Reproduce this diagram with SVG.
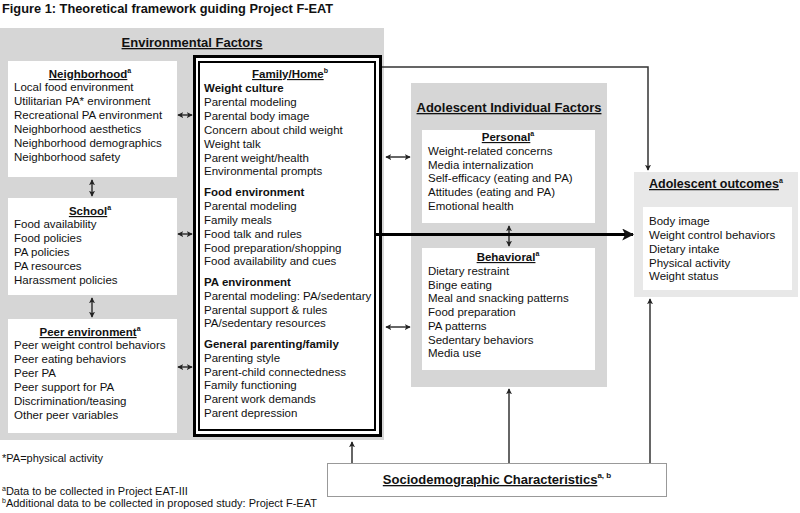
<svg xmlns="http://www.w3.org/2000/svg" width="800" height="513" viewBox="0 0 800 513">
<defs>
<style>
text{font-family:"Liberation Sans",Arial,sans-serif;fill:#111}
.t{font-size:11.5px}
.b{font-size:11.5px;font-weight:bold}
.h{font-size:11.5px;font-weight:bold;text-anchor:middle}
.H{font-size:13px;font-weight:bold;text-anchor:middle}
.u{text-decoration:underline}
.s{font-size:7px;font-weight:bold}
.fn{font-size:11px}
.panel{fill:#d6d6d6}
.box{fill:#fff}
.c{fill:none;stroke:#333;stroke-width:1.5}
</style>
<marker id="ah" viewBox="0 0 8 8" refX="7" refY="4" markerWidth="6" markerHeight="6" markerUnits="userSpaceOnUse" orient="auto-start-reverse"><path d="M0,0 L8,4 L0,8 L2,4 z" fill="#222"/></marker>
<marker id="ahb" viewBox="0 0 10 10" refX="9" refY="5" markerWidth="12" markerHeight="12" markerUnits="userSpaceOnUse" orient="auto"><path d="M0,0 L10,5 L0,10 L2.5,5 z" fill="#111"/></marker>
</defs>
<rect width="800" height="513" fill="#fff"/>
<text x="2" y="13" style="font-size:12.8px;font-weight:bold">Figure 1: Theoretical framework guiding Project F-EAT</text>

<g id="environmental-factors">
<rect class="panel" x="0" y="28" width="384" height="412"/>
<text class="H" x="192" y="47"><tspan class="u">Environmental Factors</tspan></text>
</g>

<g id="neighborhood">
<rect class="box" x="8" y="61" width="169" height="116"/>
<text class="h" x="90" y="78"><tspan class="u">Neighborhood</tspan><tspan class="s" dy="-5">a</tspan></text>
<text class="t" x="14" y="91">Local food environment</text>
<text class="t" x="14" y="105">Utilitarian PA* environment</text>
<text class="t" x="14" y="119">Recreational PA environment</text>
<text class="t" x="14" y="133">Neighborhood aesthetics</text>
<text class="t" x="14" y="147">Neighborhood demographics</text>
<text class="t" x="14" y="161">Neighborhood safety</text>
</g>

<g id="school">
<rect class="box" x="8" y="198" width="169" height="97"/>
<text class="h" x="90" y="215"><tspan class="u">School</tspan><tspan class="s" dy="-5">a</tspan></text>
<text class="t" x="14" y="228">Food availability</text>
<text class="t" x="14" y="242">Food policies</text>
<text class="t" x="14" y="256">PA policies</text>
<text class="t" x="14" y="270">PA resources</text>
<text class="t" x="14" y="284">Harassment policies</text>
</g>

<g id="peer-environment">
<rect class="box" x="8" y="319" width="169" height="114"/>
<text class="h" x="90" y="336"><tspan class="u">Peer environment</tspan><tspan class="s" dy="-5">a</tspan></text>
<text class="t" x="14" y="349">Peer weight control behaviors</text>
<text class="t" x="14" y="363">Peer eating behaviors</text>
<text class="t" x="14" y="377">Peer PA</text>
<text class="t" x="14" y="391">Peer support for PA</text>
<text class="t" x="14" y="405">Discrimination/teasing</text>
<text class="t" x="14" y="419">Other peer variables</text>
</g>

<g id="family-home">
<rect x="194.5" y="56.5" width="186" height="379" fill="#fff" stroke="#000" stroke-width="3"/>
<rect x="199" y="62" width="176" height="368" fill="#fff" stroke="#000" stroke-width="2"/>
<text class="h" x="290" y="78"><tspan class="u">Family/Home</tspan><tspan class="s" dy="-5">b</tspan></text>
<text class="b" x="204" y="92">Weight culture</text>
<text class="t" x="204" y="106">Parental modeling</text>
<text class="t" x="204" y="120">Parental body image</text>
<text class="t" x="204" y="134">Concern about child weight</text>
<text class="t" x="204" y="148">Weight talk</text>
<text class="t" x="204" y="162">Parent weight/health</text>
<text class="t" x="204" y="175">Environmental prompts</text>
<text class="b" x="204" y="196">Food environment</text>
<text class="t" x="204" y="210">Parental modeling</text>
<text class="t" x="204" y="224">Family meals</text>
<text class="t" x="204" y="238">Food talk and rules</text>
<text class="t" x="204" y="252">Food preparation/shopping</text>
<text class="t" x="204" y="265">Food availability and cues</text>
<text class="b" x="204" y="286">PA environment</text>
<text class="t" x="204" y="300">Parental modeling: PA/sedentary</text>
<text class="t" x="204" y="314">Parental support &amp; rules</text>
<text class="t" x="204" y="327">PA/sedentary resources</text>
<text class="b" x="204" y="348">General parenting/family</text>
<text class="t" x="204" y="362">Parenting style</text>
<text class="t" x="204" y="376">Parent-child connectedness</text>
<text class="t" x="204" y="389">Family functioning</text>
<text class="t" x="204" y="403">Parent work demands</text>
<text class="t" x="204" y="417">Parent depression</text>
</g>

<g id="adolescent-individual-factors">
<rect class="panel" x="411" y="83" width="196" height="304"/>
<text class="H" x="509" y="112"><tspan class="u">Adolescent Individual Factors</tspan></text>
</g>

<g id="personal">
<rect class="box" x="422" y="130" width="173" height="93"/>
<text class="h" x="508" y="141"><tspan class="u">Personal</tspan><tspan class="s" dy="-5">a</tspan></text>
<text class="t" x="428" y="155">Weight-related concerns</text>
<text class="t" x="428" y="169">Media internalization</text>
<text class="t" x="428" y="182">Self-efficacy (eating and PA)</text>
<text class="t" x="428" y="196">Attitudes (eating and PA)</text>
<text class="t" x="428" y="210">Emotional health</text>
</g>

<g id="behavioral">
<rect class="box" x="422" y="248" width="173" height="122"/>
<text class="h" x="508" y="261"><tspan class="u">Behavioral</tspan><tspan class="s" dy="-5">a</tspan></text>
<text class="t" x="428" y="275">Dietary restraint</text>
<text class="t" x="428" y="289">Binge eating</text>
<text class="t" x="428" y="302">Meal and snacking patterns</text>
<text class="t" x="428" y="316">Food preparation</text>
<text class="t" x="428" y="330">PA patterns</text>
<text class="t" x="428" y="344">Sedentary behaviors</text>
<text class="t" x="428" y="357">Media use</text>
</g>

<g id="adolescent-outcomes">
<rect x="634" y="172" width="164" height="125" fill="#e8e8e8"/>
<rect class="box" x="643" y="207" width="149" height="83"/>
<text x="649" y="188" style="font-size:12.5px;font-weight:bold"><tspan class="u">Adolescent outcomes</tspan><tspan class="s" dy="-5">a</tspan></text>
<text class="t" x="649" y="225">Body image</text>
<text class="t" x="649" y="239">Weight control behaviors</text>
<text class="t" x="649" y="253">Dietary intake</text>
<text class="t" x="649" y="267">Physical activity</text>
<text class="t" x="649" y="280">Weight status</text>
</g>

<g id="sociodemographic">
<rect x="327.5" y="463.5" width="339" height="33" fill="#fff" stroke="#999" stroke-width="1"/>
<text x="497" y="484" style="font-size:13px;font-weight:bold;text-anchor:middle"><tspan class="u">Sociodemographic Characteristics</tspan><tspan style="font-size:8px" dy="-6">a, b</tspan></text>
</g>

<g id="connectors">
<line class="c" x1="92" y1="180" x2="92" y2="196" marker-start="url(#ah)" marker-end="url(#ah)"/>
<line class="c" x1="92" y1="298" x2="92" y2="317" marker-start="url(#ah)" marker-end="url(#ah)"/>
<line class="c" x1="178" y1="115" x2="192" y2="115" marker-start="url(#ah)" marker-end="url(#ah)"/>
<line class="c" x1="178" y1="234" x2="192" y2="234" marker-start="url(#ah)" marker-end="url(#ah)"/>
<line class="c" x1="178" y1="367" x2="192" y2="367" marker-start="url(#ah)" marker-end="url(#ah)"/>
<line class="c" x1="386" y1="157" x2="410" y2="157" marker-start="url(#ah)" marker-end="url(#ah)"/>
<line class="c" x1="386" y1="327" x2="410" y2="327" marker-start="url(#ah)" marker-end="url(#ah)"/>
<line class="c" x1="509" y1="226" x2="509" y2="246" marker-start="url(#ah)" marker-end="url(#ah)"/>
<path class="c" d="M382,67 H648 V170" marker-end="url(#ah)"/>
<line x1="376" y1="234.5" x2="633" y2="234.5" stroke="#000" stroke-width="3" marker-end="url(#ahb)"/>
<line class="c" x1="352" y1="463" x2="352" y2="442" marker-end="url(#ah)"/>
<line class="c" x1="509" y1="463" x2="509" y2="389" marker-end="url(#ah)"/>
<line class="c" x1="650" y1="463" x2="650" y2="299" marker-end="url(#ah)"/>
</g>

<g id="footnotes">
<text class="fn" x="2" y="462">*PA=physical activity</text>
<text class="fn" x="2" y="495"><tspan style="font-size:7px" dy="-4">a</tspan><tspan dy="4">Data to be collected in Project EAT-III</tspan></text>
<text class="fn" x="2" y="507"><tspan style="font-size:7px" dy="-4">b</tspan><tspan dy="4">Additional data to be collected in proposed study: Project F-EAT</tspan></text>
</g>
</svg>
